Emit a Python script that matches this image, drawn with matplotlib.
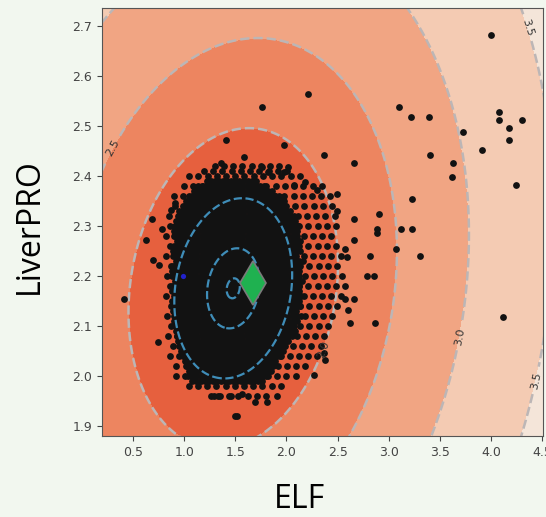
import numpy as np
import matplotlib.pyplot as plt

# distance field (centre / spread of the ELF-LiverPRO cloud)
centre = (1.48, 2.175)
spread = (0.256, 0.0800)
rho = 0.15
fill_levels = [0, 2.0, 2.5, 3.0, 3.5, 20]
fill_colors = ['#e6603e', '#ed8560', '#f1a583', '#f4cbb3', '#f4e5d9']
inner_levels = [0.5, 1.0, 1.5]

# solid body of the cloud: per LiverPRO row, ELF span
core_y = [1.99, 2.00, 2.01, 2.02, 2.03, 2.04, 2.05, 2.06, 2.07, 2.08, 2.09, 2.10, 2.11,
          2.12, 2.13, 2.14, 2.15, 2.16, 2.17, 2.18, 2.19, 2.20, 2.21, 2.22, 2.23, 2.24,
          2.25, 2.26, 2.27, 2.28, 2.29, 2.30, 2.31, 2.32, 2.33, 2.34, 2.35, 2.36, 2.37,
          2.38, 2.39]
core_lo = [1.08, 1.04, 1.05, 1.03, 1.01, 0.99, 0.97, 0.95, 0.94, 0.93, 0.92, 0.91, 0.90,
           0.90, 0.89, 0.89, 0.88, 0.90, 0.88, 0.88, 0.91, 0.88, 0.88, 0.89, 0.92, 0.89,
           0.89, 0.90, 0.93, 0.90, 0.90, 0.91, 0.92, 0.95, 0.95, 0.99, 1.02, 1.05, 1.10,
           1.14, 1.22]
core_hi = [1.78, 1.82, 1.85, 1.90, 1.92, 1.97, 2.00, 2.02, 2.05, 2.07, 2.08, 2.10, 2.12,
           2.14, 2.12, 2.15, 2.12, 2.16, 2.13, 2.12, 2.15, 2.12, 2.14, 2.12, 2.16, 2.12,
           2.14, 2.12, 2.15, 2.12, 2.10, 2.12, 2.08, 2.08, 2.04, 2.02, 1.98, 1.95, 1.88,
           1.80, 1.72]

# looser fringe around the body
fringe_y = [1.96, 1.98, 2.00, 2.02, 2.04, 2.06, 2.08, 2.10, 2.12, 2.14, 2.16, 2.18, 2.20,
            2.22, 2.24, 2.26, 2.28, 2.30, 2.32, 2.34, 2.36, 2.38, 2.40, 2.41, 2.42]
fringe_lo = [1.26, 1.00, 0.92, 0.88, 0.86, 0.85, 0.84, 0.83, 0.83, 0.83, 0.82, 0.82, 0.83,
             0.83, 0.82, 0.82, 0.82, 0.82, 0.85, 0.87, 0.90, 0.95, 1.05, 1.15, 1.30]
fringe_hi = [1.88, 1.95, 2.10, 2.22, 2.30, 2.35, 2.42, 2.48, 2.52, 2.55, 2.57, 2.58, 2.58,
             2.56, 2.55, 2.55, 2.52, 2.50, 2.48, 2.48, 2.45, 2.35, 2.20, 2.05, 1.95]

# isolated points
out_x = [4.00, 2.21, 1.76, 3.10, 3.22, 3.39, 4.08, 4.08, 4.30, 4.18, 4.18, 3.73, 3.91,
         3.40, 3.63, 3.62, 4.24, 3.23, 2.90, 2.89, 2.89, 3.12, 3.23, 3.07, 3.31, 2.82,
         2.79, 2.86, 2.87, 4.12, 2.66, 2.57, 2.60, 2.62, 2.66, 2.66, 2.66, 2.37, 1.98,
         1.41, 1.59, 1.36, 1.76, 1.82, 2.02, 1.98, 2.18, 2.07, 2.30, 0.41, 0.74, 0.63,
         0.69, 0.78, 0.70, 0.75, 0.87, 0.91, 2.27, 2.37, 2.38, 1.91, 1.81, 1.69, 1.52,
         1.50, 1.57, 1.46, 1.29, 1.33, 2.49, 2.49, 2.57, 2.59]
out_y = [2.681, 2.564, 2.537, 2.537, 2.518, 2.518, 2.527, 2.512, 2.512, 2.496, 2.471,
         2.487, 2.452, 2.442, 2.426, 2.398, 2.382, 2.354, 2.323, 2.294, 2.286, 2.294,
         2.294, 2.253, 2.240, 2.240, 2.200, 2.200, 2.106, 2.118, 2.153, 2.153, 2.131,
         2.106, 2.272, 2.313, 2.426, 2.442, 2.461, 2.471, 2.437, 2.426, 2.417, 2.407,
         2.417, 2.407, 2.388, 2.382, 2.371, 2.153, 2.067, 2.272, 2.313, 2.294, 2.231,
         2.221, 2.332, 2.346, 2.002, 2.045, 2.032, 1.960, 1.947, 1.947, 1.920, 1.920,
         1.964, 1.960, 1.960, 1.960, 2.364, 2.330, 2.254, 2.238]

blue_pt = (0.99, 2.199)
mean_pt = (1.675, 2.186)

xs, ys = [], []
for y, lo, hi in zip(core_y, core_lo, core_hi):
    row = np.arange(lo, hi + 1e-9, 0.04)
    xs += list(row)
    ys += [y] * len(row)
for i, (y, lo, hi) in enumerate(zip(fringe_y, fringe_lo, fringe_hi)):
    row = np.arange(lo + 0.045 * (i % 2), hi + 1e-9, 0.09)
    xs += list(row)
    ys += [y] * len(row)
xs += out_x
ys += out_y

gx, gy = np.meshgrid(np.linspace(0.19, 4.52, 500), np.linspace(1.87, 2.74, 500))
u = (gx - centre[0]) / spread[0]
v = (gy - centre[1]) / spread[1]
q = (u**2 - 2 * rho * u * v + v**2) / (1 - rho**2)
z = np.sqrt(np.sqrt(q))

fig = plt.figure(figsize=(5.46, 5.17), dpi=100, facecolor='#f2f7ef')
ax = fig.add_axes([0.1868, 0.1567, 0.8077, 0.8278])
ax.contourf(gx, gy, z, levels=fill_levels, colors=fill_colors)
cs = ax.contour(gx, gy, z, levels=fill_levels[1:5], colors='#bcb6b6',
                linestyles='--', linewidths=1.8)
lbls = ax.clabel(cs, fmt='%.1f', fontsize=8, colors='#333333', inline=True,
                 manual=[(0.26, 2.46), (2.40, 2.05), (3.66, 2.08), (4.46, 1.99), (4.42, 2.70)])
for t in lbls:
    t.set_zorder(7)

ax.scatter(xs, ys, s=24, c='#121212', linewidths=0, zorder=3)
ax.scatter([blue_pt[0]], [blue_pt[1]], s=14, c='#2222cc', linewidths=0, zorder=4)
ax.contour(gx, gy, z, levels=inner_levels, colors='#3f8db8',
           linestyles='--', linewidths=1.6, zorder=5)
ax.plot(mean_pt[0], mean_pt[1], 'd', ms=22, mfc='#1fb150', mec='#7a7a7a', mew=1.2, zorder=6)

ax.set_xlim(0.197, 4.508)
ax.set_ylim(1.88, 2.735)
ax.set_xticks([0.5, 1.0, 1.5, 2.0, 2.5, 3.0, 3.5, 4.0, 4.5])
ax.set_yticks([1.9, 2.0, 2.1, 2.2, 2.3, 2.4, 2.5, 2.6, 2.7])
ax.tick_params(labelsize=9, colors='#444444')
for s in ax.spines.values():
    s.set_color('#555555')

fig.text(0.548, 0.002, 'ELF', fontsize=23, family='Open Sans', ha='center', va='bottom')
fig.text(0.054, 0.563, 'LiverPRO', fontsize=23, family='Open Sans', rotation=90,
         ha='center', va='center')

fig.savefig('out.png', dpi=100, facecolor=fig.get_facecolor())
